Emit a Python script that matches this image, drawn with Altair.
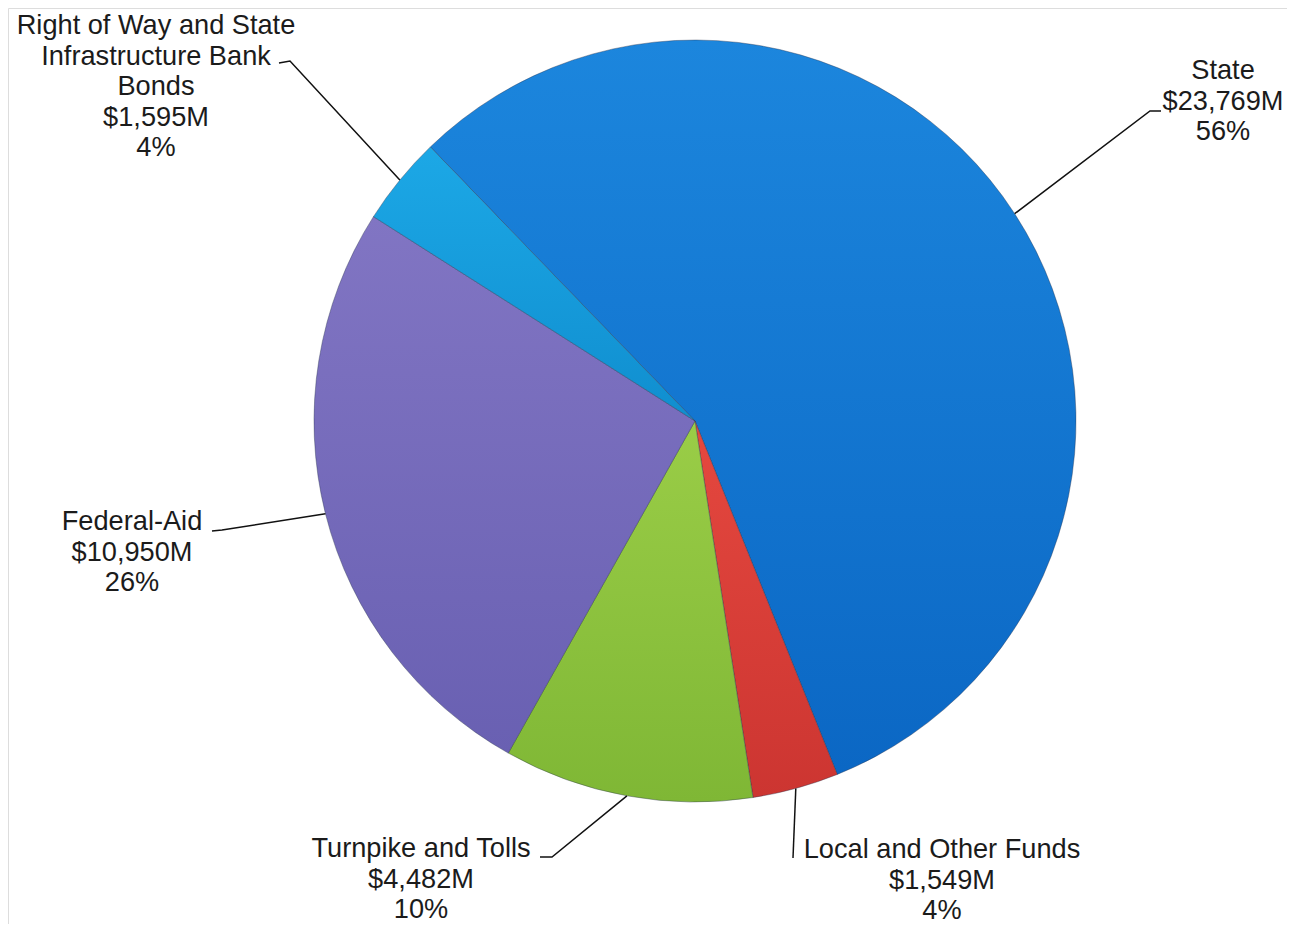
import math
import altair as alt
import pandas as pd

# ---- data ----
categories = ["State", "Local and Other Funds", "Turnpike and Tolls",
              "Federal-Aid", "Right of Way and State Infrastructure Bank Bonds"]
amounts_m = [23769, 1549, 4482, 10950, 1595]
percent_labels = [56, 4, 10, 26, 4]
name_lines = [
    ["State"],
    ["Local and Other Funds"],
    ["Turnpike and Tolls"],
    ["Federal-Aid"],
    ["Right of Way and State", "Infrastructure Bank", "Bonds"],
]
# light (top) and dark (bottom) shade of each slice
colors_light = ["#1C86DD", "#E5483F", "#9ACD47", "#8175C3", "#1CA8E6"]
colors_dark = ["#0B67C4", "#CC3531", "#7FB735", "#6960B2", "#108ECF"]

# ---- layout (page pixels; chart origin is at page (8, 8)) ----
W, H = 1279, 916
OFF = 8
CX, CY, R = 695 - OFF, 421 - OFF, 381
START = math.radians(316.0)          # State slice begins here, clockwise from 12 o'clock
FONT_SIZE = 27.2
LINE_H = 30.6
# label anchor: centre x, first-line baseline y
label_xy = [(1223, 79), (942, 858), (421, 857), (132, 530), (156, 34)]
# leader: label end point, elbow point (page px)
leader_end = [(1161, 111), (793, 858), (540, 857), (212, 531), (279, 63)]
leader_elbow = [(1150, 111), (793, 858), (552, 857), (222, 530), (290, 61)]

total = sum(amounts_m)
df = pd.DataFrame({
    "category": categories,
    "amount": amounts_m,
    "order": list(range(len(categories))),
})

theta_scale = alt.Scale(type="linear", domain=[0, total], range=[START, START + 2 * math.pi])

base = alt.Chart(df).transform_window(
    cum="sum(amount)", sort=[alt.SortField("order", order="ascending")]
).transform_calculate(
    t0="datum.cum - datum.amount", t1="datum.cum"
)

arcs = []
for i, c in enumerate(categories):
    grad = alt.LinearGradient(
        gradient="linear", x1=0, y1=0, x2=0, y2=1,
        stops=[alt.GradientStop(color=colors_light[i], offset=0),
               alt.GradientStop(color=colors_dark[i], offset=1)],
    )
    arcs.append(
        base.transform_filter(alt.datum.category == c).mark_arc(
            fill=grad, stroke="#24304a", strokeWidth=0.7, strokeOpacity=0.55
        ).encode(
            theta=alt.Theta("t0:Q", scale=theta_scale),
            theta2="t1:Q",
            x=alt.value(CX),
            y=alt.value(CY),
            radius=alt.value(R),
        )
    )

# text labels
texts = []
for i, c in enumerate(categories):
    lines = name_lines[i] + [f"${amounts_m[i]:,}M", f"{percent_labels[i]}%"]
    texts.append({"category": c, "label": lines,
                  "lx": label_xy[i][0] - OFF, "ly": label_xy[i][1] - OFF})
tdf = pd.DataFrame(texts)
text = alt.Chart(tdf).mark_text(
    font="Liberation Sans", fontSize=FONT_SIZE, lineHeight=LINE_H,
    align="center", baseline="alphabetic", color="#1b1b1b"
).encode(
    x=alt.X("lx:Q", scale=None),
    y=alt.Y("ly:Q", scale=None),
    text="label",
)

# leader lines: from slice mid-angle on the rim to the label
rows = []
cum = 0.0
for i, c in enumerate(categories):
    mid = START + 2 * math.pi * (cum + amounts_m[i] / 2) / total
    cum += amounts_m[i]
    px = CX + R * math.sin(mid)
    py = CY - R * math.cos(mid)
    pts = [(px, py), (leader_elbow[i][0] - OFF, leader_elbow[i][1] - OFF),
           (leader_end[i][0] - OFF, leader_end[i][1] - OFF)]
    for k, (x, y) in enumerate(pts):
        rows.append({"category": c, "k": k, "px": x, "py": y})
ldf = pd.DataFrame(rows)
leaders = alt.Chart(ldf).mark_line(color="#111111", strokeWidth=1.5).encode(
    x=alt.X("px:Q", scale=None),
    y=alt.Y("py:Q", scale=None),
    detail="category:N",
    order="k:Q",
)

chart = alt.layer(*arcs, leaders, text).properties(
    width=W, height=H, padding=0, autosize=alt.AutoSizeParams(type="none")
).configure_view(stroke=None).configure(background="white")

chart.save("out.html", embed_options={"renderer": "svg", "actions": False})
